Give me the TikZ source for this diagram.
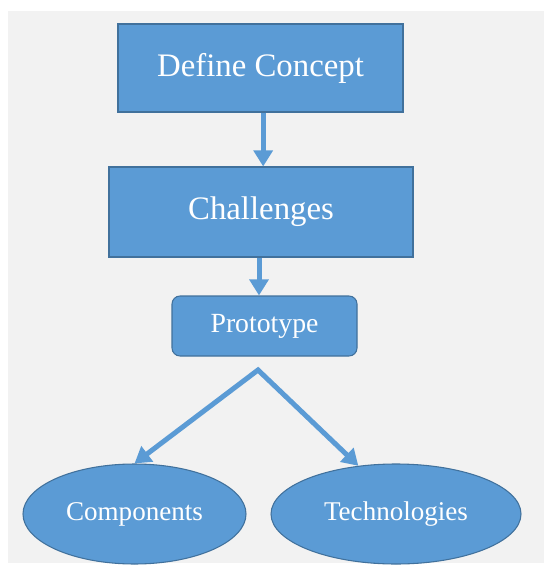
\documentclass[tikz,border=0pt]{standalone}
\usepackage{fontspec}
\setmainfont{Liberation Serif}
\usetikzlibrary{arrows.meta,shapes.geometric}
\definecolor{boxblue}{HTML}{5B9BD5}
\definecolor{edgeblue}{HTML}{41719C}
\definecolor{backgray}{HTML}{F2F2F2}
\begin{document}
\begin{tikzpicture}[x=0.75pt,y=-0.75pt,
    bigbox/.style={draw=edgeblue,line width=0.8pt,fill=boxblue,text=white,inner sep=0pt,
        font=\fontsize{24.6}{28}\selectfont},
    smallbox/.style={bigbox,rounded corners=6pt,font=\fontsize{20.8}{24}\selectfont},
    leaf/.style={ellipse,draw=edgeblue,line width=0.8pt,fill=boxblue,text=white,inner sep=0pt,
        minimum height=75pt,font=\fontsize{20.3}{24}\selectfont},
    flow/.style={boxblue,line width=3.75pt,-{Triangle[width=14pt,length=12pt]}}]
        \useasboundingbox (0,0) rectangle (544,566);
        \fill[backgray] (8,11) rectangle (544,563); % grey page
        \node[bigbox,minimum width=213.75pt,minimum height=66pt] (concept) at (260.5,68) {Define Concept};
        \node[bigbox,minimum width=228pt,minimum height=67.5pt] (challenges) at (261,212) {Challenges};
        \node[smallbox,minimum width=138.75pt,minimum height=45pt] (prototype) at (264.5,326) {Prototype};
        \node[leaf,minimum width=167.25pt] (components) at (134.5,514) {Components};
        \node[leaf,minimum width=187.5pt] (technologies) at (396,514) {Technologies};
        \coordinate (split) at (258,370); % top of the fork
        \draw[flow] ([xshift=2pt]concept.south) -- ([xshift=2pt]concept.south |- challenges.north);
        \draw[flow] ([xshift=-1.5pt]challenges.south) -- ([xshift=-1.5pt]challenges.south |- prototype.north);
        \draw[flow,{Triangle[width=14pt,length=12pt]}-{Triangle[width=14pt,length=12pt]}]
        (components.north) -- (split) -- (technologies.128); % fork to both leaves
    \end{tikzpicture}
\end{document}
